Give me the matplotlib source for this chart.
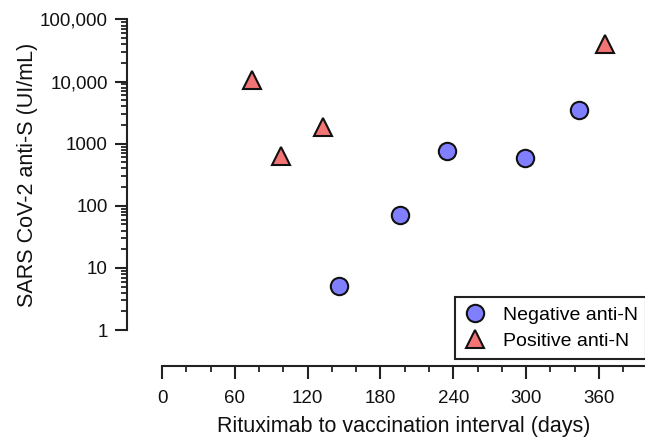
import matplotlib
matplotlib.use("Agg")
import matplotlib.pyplot as plt
from matplotlib.ticker import LogLocator, MultipleLocator, NullFormatter

plt.rcParams['font.family'] = ['Liberation Sans', 'DejaVu Sans']

# Negative anti-N (circles)
neg_days = [146, 196, 235, 299, 344]
neg_titer = [5.2, 71, 750, 590, 3500]

# Positive anti-N (triangles)
pos_days = [74, 98, 133, 365]
pos_titer = [10500, 630, 1880, 39800]

ytick_vals = [1, 10, 100, 1000, 10000, 100000]
ytick_labels = ["1", "10", "100", "1000", "10,000", "100,000"]
xtick_vals = [0, 60, 120, 180, 240, 300, 360]

tick_fs = 13.5
label_fs = 15.5
legend_fs = 14
axis_color = '#222222'

fig = plt.figure(figsize=(6.45, 4.41), dpi=100)
ax = fig.add_axes([0.2512, 0.2517, 0.7488, 0.7041])

ax.plot(neg_days, neg_titer, linestyle='none', marker='o', markersize=12.5,
        markerfacecolor='#7f7fff', markeredgecolor='#111111', markeredgewidth=1.5,
        label='Negative anti-N', clip_on=False)
ax.plot(pos_days, pos_titer, linestyle='none', marker='^', markersize=13,
        markerfacecolor='#f27474', markeredgecolor='#111111', markeredgewidth=1.5,
        label='Positive anti-N', clip_on=False)

ax.set_yscale('log')
ax.set_ylim(1, 100000)
ax.set_xlim(0, 398)

ax.set_yticks(ytick_vals)
ax.set_yticklabels(ytick_labels)
ax.yaxis.set_minor_locator(LogLocator(base=10, subs=range(2, 10)))
ax.yaxis.set_minor_formatter(NullFormatter())

ax.set_xticks(xtick_vals)
ax.xaxis.set_minor_locator(MultipleLocator(20))

for side in ['top', 'right']:
    ax.spines[side].set_visible(False)
ax.spines['left'].set_position(('outward', 25))
ax.spines['bottom'].set_position(('outward', 26))
for side in ['left', 'bottom']:
    ax.spines[side].set_linewidth(1.5)
    ax.spines[side].set_color(axis_color)

ax.tick_params(axis='both', which='major', length=9, width=1.5, color=axis_color,
               labelsize=tick_fs, labelcolor='#111111')
ax.tick_params(axis='both', which='minor', length=4.5, width=1.3, color=axis_color)
ax.tick_params(axis='y', which='major', pad=5)
ax.tick_params(axis='x', which='major', pad=8)

ax.set_ylabel("SARS CoV-2 anti-S (UI/mL)", fontsize=label_fs, color='#111111', labelpad=1)
ax.set_xlabel("Rituximab to vaccination interval (days)", fontsize=label_fs, color='#111111', labelpad=7)

leg = ax.legend(loc='upper left', bbox_to_anchor=(0.7054, 0.3259),
                bbox_transform=fig.transFigure, fontsize=legend_fs, frameon=True,
                fancybox=False, framealpha=1, edgecolor='#222222',
                borderpad=0.45, handletextpad=0.8, labelspacing=0.45,
                handlelength=1.2, borderaxespad=0)
leg.get_frame().set_linewidth(1.5)

fig.savefig("out.png", dpi=100)
